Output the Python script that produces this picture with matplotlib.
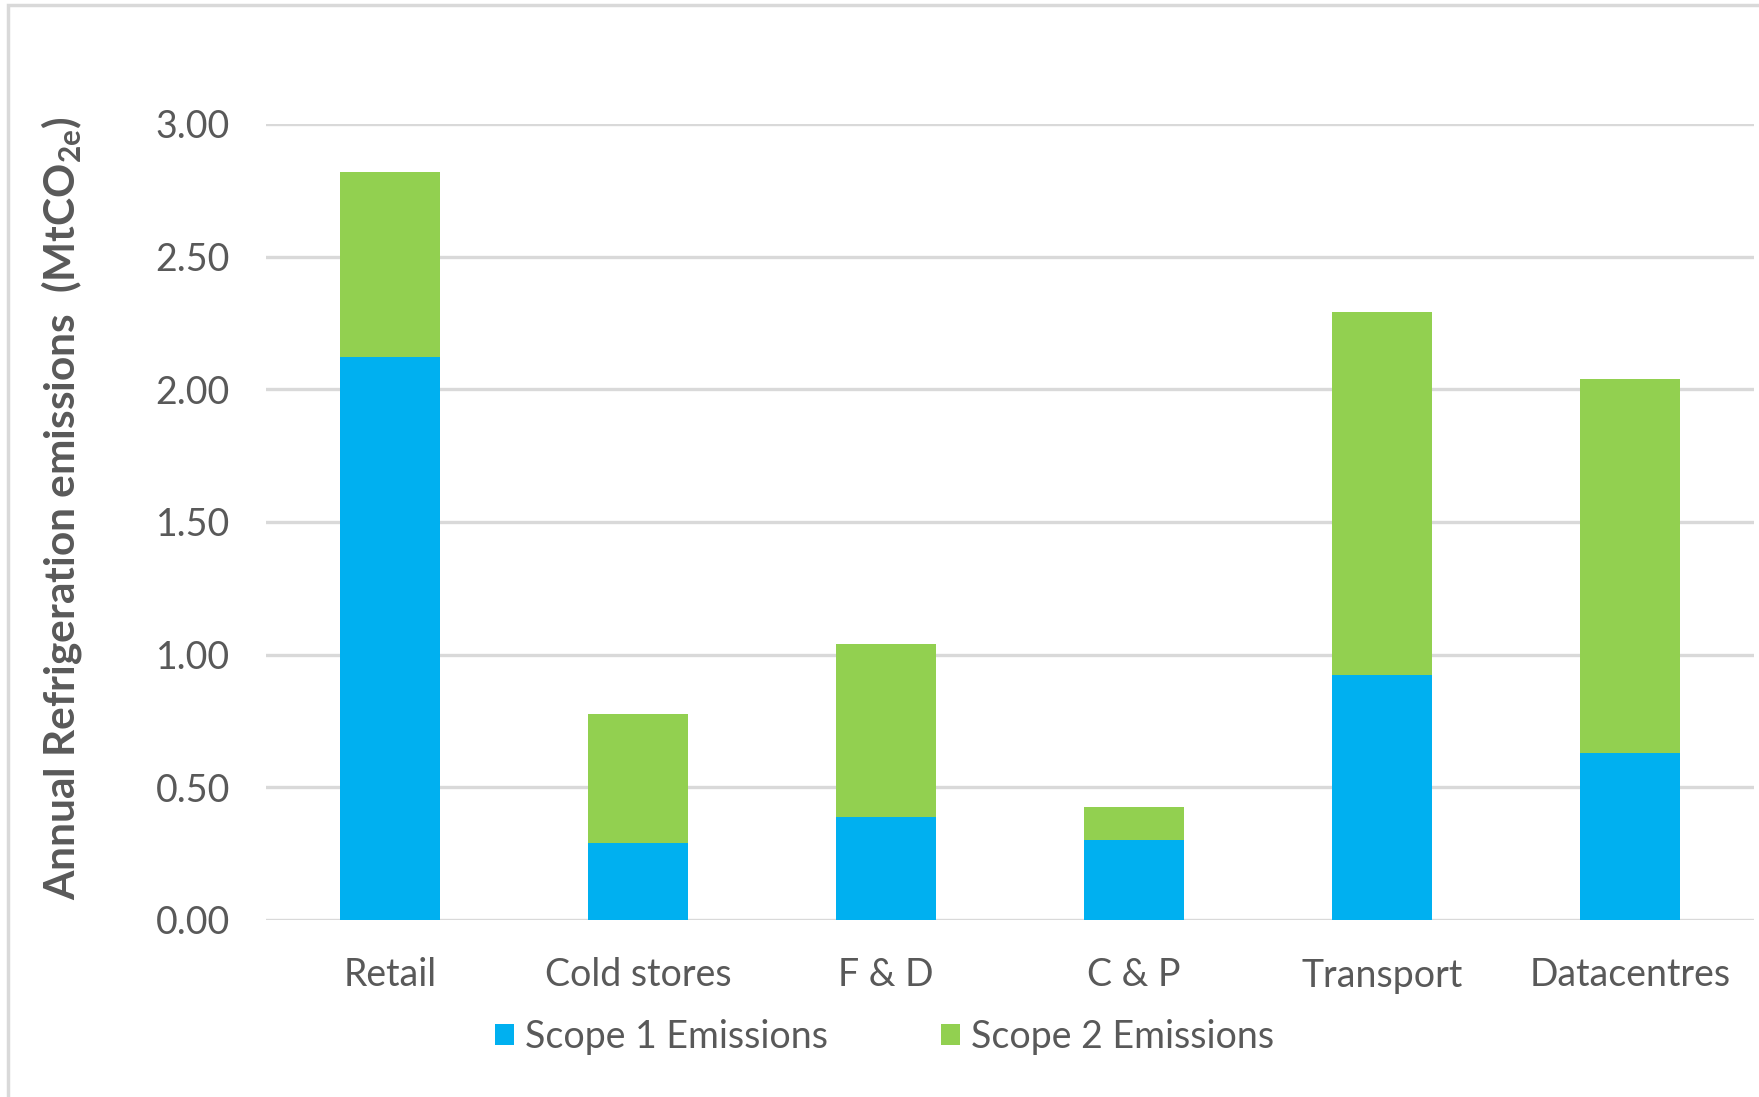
import matplotlib
matplotlib.use("Agg")
import matplotlib.pyplot as plt
from matplotlib.patches import Patch, Rectangle

categories = ["Retail", "Cold stores", "F & D", "C & P", "Transport", "Datacentres"]
scope1 = [2.12, 0.29, 0.39, 0.30, 0.925, 0.63]
scope2 = [0.70, 0.485, 0.65, 0.125, 1.365, 1.41]
series_labels = ["Scope 1 Emissions", "Scope 2 Emissions"]
yticks = [0.0, 0.5, 1.0, 1.5, 2.0, 2.5, 3.0]

BLUE = "#00B0F0"
GREEN = "#92D050"
GRID = "#D9D9D9"
TEXT = "#595959"

plt.rcParams["font.family"] = ["Lato", "DejaVu Sans"]

fig = plt.figure(figsize=(17.59, 10.97), dpi=100)
ax = fig.add_axes([266 / 1759, 1 - 920 / 1097, (1754 - 266) / 1759, (920 - 124) / 1097])

x = list(range(len(categories)))
ax.bar(x, scope1, width=0.4, color=BLUE, zorder=3, linewidth=0)
ax.bar(x, scope2, width=0.4, bottom=scope1, color=GREEN, zorder=3, linewidth=0)

ax.set_xlim(-0.5, len(categories) - 0.5)
ax.set_ylim(0, 3.0)
ax.set_yticks(yticks)
ax.set_yticklabels([f"{v:.2f}" for v in yticks])
ax.set_xticks(x)
ax.set_xticklabels(categories)
ax.yaxis.grid(True, color=GRID, linewidth=2.4, zorder=0)
ax.set_axisbelow(True)
for s in ax.spines.values():
    s.set_visible(False)
ax.tick_params(axis="both", length=0, labelsize=27, colors=TEXT)
ax.tick_params(axis="y", pad=26)
ax.tick_params(axis="x", pad=27)

fig.text(62 / 1759, 1 - 508 / 1097,
         r"Annual Refrigeration emissions  (MtCO$_{\mathregular{2e}}$)",
         rotation=90, ha="center", va="center", fontsize=30.5, fontweight="bold",
         color=TEXT)

handles = [Patch(facecolor=BLUE, edgecolor="none"), Patch(facecolor=GREEN, edgecolor="none")]
fig.legend(handles, series_labels, loc="center", bbox_to_anchor=(0.503, 1 - 1037 / 1097),
           ncol=2, frameon=False, fontsize=27, labelcolor=TEXT,
           handlelength=0.5, handleheight=0.5, handletextpad=0.3, columnspacing=3.0)

# light frame around the chart area
fig.patches.append(Rectangle((8 / 1759, -0.05), 1.1, 1.05 - 5 / 1097,
                             transform=fig.transFigure, fill=False,
                             edgecolor=GRID, linewidth=2.5))

fig.savefig("out.png", dpi=100)
